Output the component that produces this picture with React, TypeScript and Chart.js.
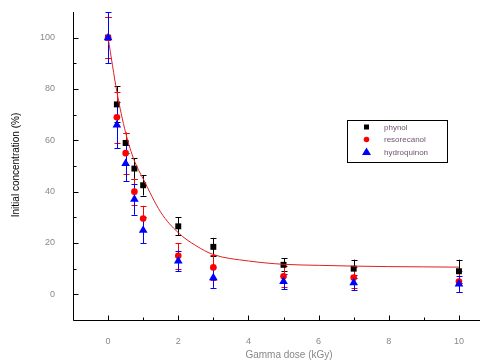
import { useEffect, useRef } from "react";
import { Chart, registerables } from "chart.js";

Chart.register(...registerables);

// ---- data ----
const doses = [0, 0.25, 0.5, 0.75, 1, 2, 3, 5, 7, 10];
const phynol = [100, 74, 59, 49, 42.5, 26.5, 18.5, 11.5, 10, 9];
const phynolErr = [8, 7, 4, 4, 4, 3.5, 3.5, 2.5, 3.5, 4.5];
const resorecanol = [100, 69, 55, 40, 29.5, 15, 10.5, 7, 6.5, 5];
const resorecanolErr = [8, 10, 8, 5, 5, 5, 5, 4, 4, 4];
const hydroquinon = [100, 66, 51, 37, 25, 13, 6.5, 5, 4.5, 4];
const hydroquinonErr = [10, 9, 7, 6, 5, 4, 4, 3, 3, 3];

const fitX = [0, 0.25, 0.5, 0.75, 1, 1.5, 2, 2.5, 3, 4, 5, 6, 7, 8, 9, 10];
const fitY = [100, 79, 63, 52, 45, 32, 24, 19, 15.5, 13, 11.7, 11.3, 11, 10.8, 10.7, 10.6];

const xTicks = [0, 2, 4, 6, 8, 10];
const xMinorTicks = [1, 3, 5, 7, 9];
const yTicks = [0, 20, 40, 60, 80, 100];
const yMinorTicks = [-10, 10, 30, 50, 70, 90];

const seriesNames = ["phynol", "resorecanol", "hydroquinon"];
const seriesColors = ["#000000", "#ff0000", "#0000ff"];
const seriesStyles = ["rect", "circle", "triangle"];

const FONT = "'Liberation Sans', Arial, sans-serif";

const pts = (ys: number[]) => doses.map((x, i) => ({ x, y: ys[i] }));

const errorBarPlugin = {
  id: "errorBars",
  beforeDatasetsDraw(chart: any) {
    const { ctx } = chart;
    const xs = chart.scales.x;
    const ys = chart.scales.y;
    const vals = [phynol, resorecanol, hydroquinon];
    const errs = [phynolErr, resorecanolErr, hydroquinonErr];
    ctx.save();
    ctx.lineWidth = 1;
    vals.forEach((v, s) => {
      ctx.strokeStyle = seriesColors[s];
      doses.forEach((d, j) => {
        const px = Math.round(xs.getPixelForValue(d)) + 0.5;
        const y1 = ys.getPixelForValue(v[j] + errs[s][j]);
        const y2 = ys.getPixelForValue(v[j] - errs[s][j]);
        ctx.beginPath();
        ctx.moveTo(px, y1);
        ctx.lineTo(px, y2);
        ctx.moveTo(px - 3, Math.round(y1) + 0.5);
        ctx.lineTo(px + 3, Math.round(y1) + 0.5);
        ctx.moveTo(px - 3, Math.round(y2) + 0.5);
        ctx.lineTo(px + 3, Math.round(y2) + 0.5);
        ctx.stroke();
      });
    });
    ctx.restore();
  },
};

const axesPlugin = {
  id: "axesDecor",
  afterDraw(chart: any) {
    const { ctx, chartArea } = chart;
    const xs = chart.scales.x;
    const ys = chart.scales.y;
    const left = Math.round(chartArea.left) + 0.5;
    const bottom = Math.round(chartArea.bottom) + 0.5;
    ctx.save();
    ctx.strokeStyle = "#000";
    ctx.lineWidth = 1;
    ctx.beginPath();
    ctx.moveTo(left, chartArea.top);
    ctx.lineTo(left, bottom);
    ctx.lineTo(chartArea.right, bottom);
    yTicks.forEach((v) => {
      const y = Math.round(ys.getPixelForValue(v)) + 0.5;
      ctx.moveTo(left, y);
      ctx.lineTo(left + 5, y);
    });
    yMinorTicks.forEach((v) => {
      const y = Math.round(ys.getPixelForValue(v)) + 0.5;
      ctx.moveTo(left, y);
      ctx.lineTo(left + 3, y);
    });
    xTicks.forEach((v) => {
      const x = Math.round(xs.getPixelForValue(v)) + 0.5;
      ctx.moveTo(x, bottom);
      ctx.lineTo(x, bottom - 5);
    });
    xMinorTicks.forEach((v) => {
      const x = Math.round(xs.getPixelForValue(v)) + 0.5;
      ctx.moveTo(x, bottom);
      ctx.lineTo(x, bottom - 3);
    });
    ctx.stroke();

    ctx.fillStyle = "#888";
    ctx.font = `10px ${FONT}`;
    ctx.textAlign = "center";
    ctx.textBaseline = "middle";
    ctx.fillText("Gamma dose (kGy)", 289, 355);

    ctx.save();
    ctx.translate(16, 165);
    ctx.rotate(-Math.PI / 2);
    ctx.fillStyle = "#000";
    ctx.fillText("Initial concentration (%)", 0, 0);
    ctx.restore();

    const bx = 347.5, by = 120.5, bw = 100, bh = 42;
    ctx.fillStyle = "#fff";
    ctx.fillRect(bx, by, bw, bh);
    ctx.strokeStyle = "#000";
    ctx.strokeRect(bx, by, bw, bh);
    const rowsY = [127, 139.5, 152];
    ctx.font = `8px ${FONT}`;
    ctx.textAlign = "left";
    seriesNames.forEach((name, i) => {
      const cy = rowsY[i];
      const cx = 366.5;
      ctx.fillStyle = seriesColors[i];
      if (seriesStyles[i] === "rect") {
        ctx.fillRect(cx - 2.5, cy - 2.5, 5, 5);
      } else if (seriesStyles[i] === "circle") {
        ctx.beginPath();
        ctx.arc(cx, cy, 2.8, 0, Math.PI * 2);
        ctx.fill();
      } else {
        ctx.beginPath();
        ctx.moveTo(cx, cy - 4.5);
        ctx.lineTo(cx + 4.5, cy + 3);
        ctx.lineTo(cx - 4.5, cy + 3);
        ctx.closePath();
        ctx.fill();
      }
      ctx.fillStyle = "#6e5470";
      ctx.fillText(name, 384, cy + 0.5);
    });
    ctx.restore();
  },
};

export default function App() {
  const ref = useRef<HTMLCanvasElement | null>(null);

  useEffect(() => {
    if (!ref.current) return;
    const chart = new Chart(ref.current, {
      type: "scatter",
      data: {
        datasets: [
          {
            type: "line",
            label: "fit",
            data: fitX.map((x, i) => ({ x, y: fitY[i] })),
            borderColor: "#e02020",
            borderWidth: 1,
            pointRadius: 0,
            cubicInterpolationMode: "monotone",
            fill: false,
            order: 2,
          } as any,
          {
            label: seriesNames[0],
            data: pts(phynol),
            backgroundColor: seriesColors[0],
            borderColor: seriesColors[0],
            pointStyle: "rect",
            pointRadius: 4.2,
            borderWidth: 0,
            order: 3,
          },
          {
            label: seriesNames[1],
            data: pts(resorecanol),
            backgroundColor: seriesColors[1],
            borderColor: seriesColors[1],
            pointStyle: "circle",
            pointRadius: 3.3,
            borderWidth: 0,
            order: 1,
          },
          {
            label: seriesNames[2],
            data: pts(hydroquinon),
            backgroundColor: seriesColors[2],
            borderColor: seriesColors[2],
            pointStyle: "triangle",
            pointRadius: 5,
            borderWidth: 0,
            order: 0,
          },
        ],
      },
      options: {
        responsive: false,
        animation: false,
        devicePixelRatio: 1,
        layout: { autoPadding: false, padding: { top: 12, right: 2, left: 0, bottom: 0 } },
        plugins: { legend: { display: false }, tooltip: { enabled: false } },
        scales: {
          x: {
            type: "linear",
            min: -1,
            max: 10.6,
            grid: { display: false },
            border: { display: false },
            afterBuildTicks: (s: any) => {
              s.ticks = xTicks.map((v) => ({ value: v }));
            },
            afterFit: (s: any) => {
              s.height = 43;
              s.paddingLeft = 0;
              s.paddingRight = 0;
              s.paddingTop = 0;
              s.paddingBottom = 0;
            },
            ticks: {
              color: "#888",
              font: { family: FONT, size: 9 },
              padding: 8,
              maxRotation: 0,
            },
          },
          y: {
            type: "linear",
            min: -10,
            max: 110,
            grid: { display: false },
            border: { display: false },
            afterBuildTicks: (s: any) => {
              s.ticks = yTicks.map((v) => ({ value: v }));
            },
            afterFit: (s: any) => {
              s.width = 73;
              s.paddingLeft = 0;
              s.paddingRight = 0;
              s.paddingTop = 0;
              s.paddingBottom = 0;
            },
            ticks: {
              color: "#888",
              font: { family: FONT, size: 9 },
              padding: 10,
            },
          },
        },
      },
      plugins: [errorBarPlugin, axesPlugin],
    });
    return () => chart.destroy();
  }, []);

  return (
    <div style={{ position: "fixed", left: 0, top: 0, width: 482, height: 363, background: "#fff" }}>
      <canvas ref={ref} width={482} height={363} style={{ width: 482, height: 363 }} />
    </div>
  );
}
